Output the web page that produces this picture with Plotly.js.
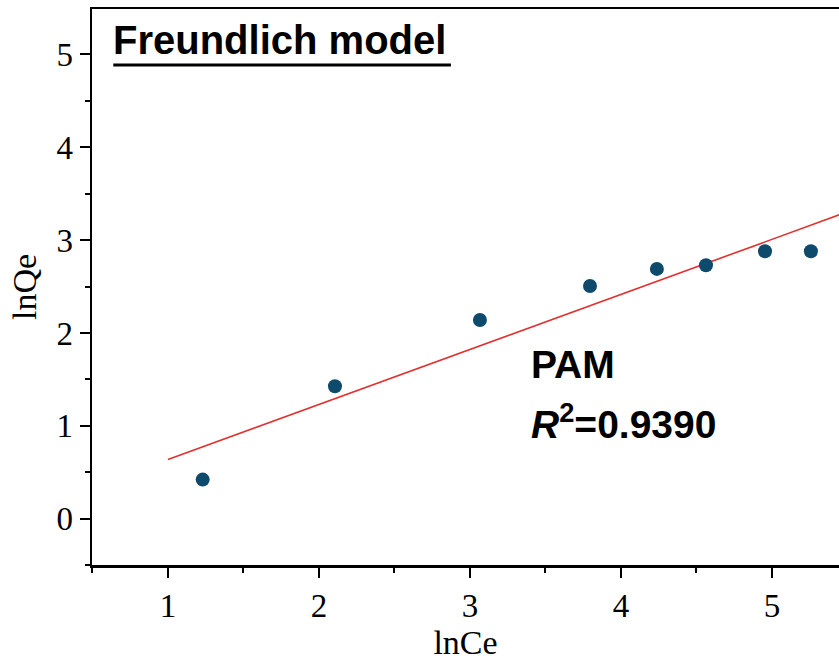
<!DOCTYPE html>
<html>
<head>
<meta charset="utf-8">
<script src="https://cdn.plot.ly/plotly-3.0.1.min.js"></script>
<style>
  html, body { margin: 0; padding: 0; background: #fff; }
  #chart { width: 839px; height: 666px; }
</style>
</head>
<body>
<div id="chart"></div>
<script>
// Freundlich isotherm, linearised: lnQe against lnCe for PAM
const lnCe = [1.23, 2.106, 3.066, 3.795, 4.238, 4.563, 4.954, 5.258];
const lnQe = [0.42, 1.425, 2.14, 2.505, 2.69, 2.73, 2.88, 2.88];
const fitSpan = [1, 5.6];          // x extent of the fitted line
const sampleName = 'PAM';
const r2Text = '0.9390';

// least-squares straight line through the points
function linearFit(x, y) {
  const n = x.length;
  const mx = x.reduce((a, b) => a + b, 0) / n;
  const my = y.reduce((a, b) => a + b, 0) / n;
  let sxy = 0, sxx = 0;
  for (let i = 0; i < n; i++) {
    sxy += (x[i] - mx) * (y[i] - my);
    sxx += (x[i] - mx) * (x[i] - mx);
  }
  const slope = sxy / sxx;
  return { slope, intercept: my - slope * mx };
}
const fit = linearFit(lnCe, lnQe);
const fitY = fitSpan.map(v => fit.intercept + fit.slope * v);

const serif = '"Liberation Serif", "DejaVu Serif", serif';
const sans = '"Liberation Sans", Arial, sans-serif';

const traces = [
  {
    x: fitSpan, y: fitY, type: 'scatter', mode: 'lines',
    line: { color: '#e0302f', width: 1.6 },
    hoverinfo: 'skip', showlegend: false
  },
  {
    x: lnCe, y: lnQe, type: 'scatter', mode: 'markers',
    marker: { color: '#0d4a6b', size: 14 },
    showlegend: false, cliponaxis: false
  }
];

const axisCommon = {
  showgrid: false, zeroline: false,
  showline: true, linecolor: '#000', linewidth: 2.5,
  ticks: 'outside', ticklen: 10, tickwidth: 2, tickcolor: '#000',
  tickfont: { family: serif, size: 33, color: '#000' },
  dtick: 1,
  minor: { dtick: 0.5, ticks: 'outside', ticklen: 5, tickwidth: 2, tickcolor: '#000' }
};

const layout = {
  width: 839, height: 666,
  margin: { l: 92, r: 0, t: 9, b: 101 },
  paper_bgcolor: '#fff', plot_bgcolor: '#fff',
  xaxis: Object.assign({}, axisCommon, {
    range: [0.497, 5.444], tick0: 1, mirror: true,
    title: { text: 'lnCe', font: { family: serif, size: 34, color: '#000' }, standoff: 2 }
  }),
  yaxis: Object.assign({}, axisCommon, {
    range: [-0.5, 5.49], tick0: 0,
    title: { text: 'lnQe', font: { family: serif, size: 34, color: '#000' }, standoff: 10 }
  }),
  shapes: [
    // underline beneath the panel heading
    {
      type: 'line', xref: 'paper', yref: 'paper',
      x0: 0.0285, x1: 0.4805, y0: 0.8995, y1: 0.8995,
      line: { color: '#000', width: 3 }
    }
  ],
  annotations: [
    {
      xref: 'paper', yref: 'paper', x: 0.026, y: 0.987,
      xanchor: 'left', yanchor: 'top', showarrow: false,
      text: '<b>Freundlich model</b>',
      font: { family: sans, size: 40, color: '#000' }
    },
    {
      xref: 'x', yref: 'y', x: 3.39, y: 1.66,
      xanchor: 'left', yanchor: 'middle', showarrow: false, align: 'left',
      text: '<b>' + sampleName + '</b>',
      font: { family: sans, size: 39, color: '#000' }
    },
    {
      xref: 'x', yref: 'y', x: 3.39, y: 1.05,
      xanchor: 'left', yanchor: 'middle', showarrow: false, align: 'left',
      text: '<b><i>R</i><sup>2</sup>=' + r2Text + '</b>',
      font: { family: sans, size: 39, color: '#000' }
    }
  ]
};

Plotly.newPlot('chart', traces, layout, { displayModeBar: false, staticPlot: true });
</script>
</body>
</html>
